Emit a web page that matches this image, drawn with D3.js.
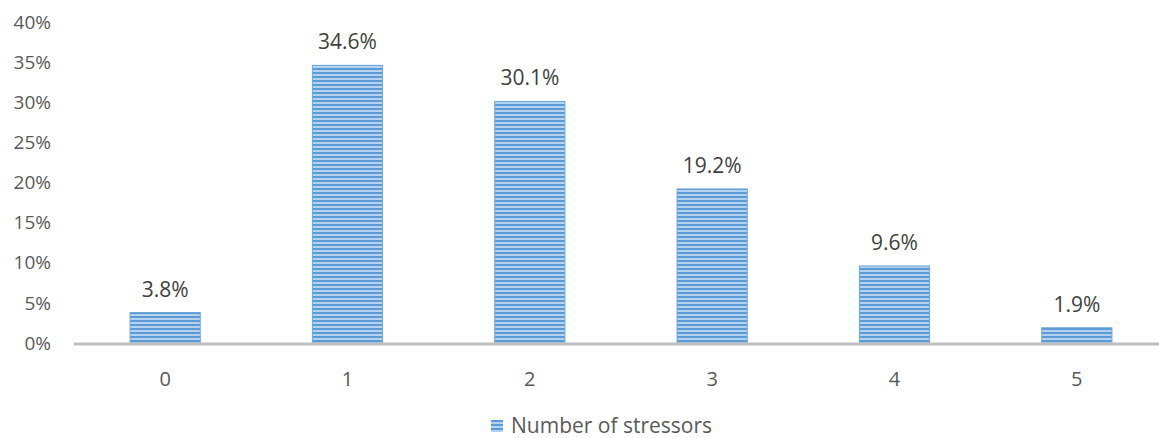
<!DOCTYPE html>
<html>
<head>
<meta charset="utf-8">
<script src="https://cdn.jsdelivr.net/npm/d3@7"></script>
<style>
  body { margin: 0; background: #fff; }
  text { font-family: "Open Sans", sans-serif; fill: #595959; }
</style>
</head>
<body>
<div id="chart"></div>
<script>
const categories = ['0', '1', '2', '3', '4', '5'];
const values = [3.8, 34.6, 30.1, 19.2, 9.6, 1.9];
const yTicks = [0, 5, 10, 15, 20, 25, 30, 35, 40];
const seriesName = 'Number of stressors';

const width = 1159;
const height = 438;

const svg = d3.select('#chart')
  .append('svg')
    .attr('width', width)
    .attr('height', height);

// striped fill like the original
const defs = svg.append('defs');
const pat = defs.append('pattern')
  .attr('id', 'stripes')
  .attr('patternUnits', 'userSpaceOnUse')
  .attr('width', 8)
  .attr('height', 4);
pat.append('rect').attr('width', 8).attr('height', 4).attr('fill', '#b4d2ee');
pat.append('rect').attr('width', 8).attr('height', 2).attr('fill', '#5b9bd5');

const x = d3.scaleBand()
  .domain(categories)
  .range([74, 1168]);

const y = d3.scaleLinear()
  .domain([0, 40])
  .range([343, 22]);

const barW = x.bandwidth() * 0.385;

// y axis labels
svg.append('g')
  .selectAll('text')
  .data(yTicks)
  .enter().append('text')
    .attr('x', 51)
    .attr('y', d => y(d))
    .attr('dy', '0.35em')
    .attr('text-anchor', 'end')
    .style('font-size', '19px')
    .text(d => d + '%');

// bars
svg.append('g')
  .selectAll('rect')
  .data(values)
  .enter().append('rect')
    .attr('x', (d, i) => x(categories[i]) + (x.bandwidth() - barW) / 2)
    .attr('y', d => y(d))
    .attr('width', barW)
    .attr('height', d => y(0) - y(d))
    .attr('fill', 'url(#stripes)')
    .attr('stroke', '#6fa6da')
    .attr('stroke-width', 1);

// value labels
svg.append('g')
  .selectAll('text')
  .data(values)
  .enter().append('text')
    .attr('x', (d, i) => x(categories[i]) + x.bandwidth() / 2)
    .attr('y', d => y(d) - 16)
    .attr('text-anchor', 'middle')
    .style('font-size', '21px')
    .style('fill', '#404040')
    .text(d => d.toFixed(1) + '%');

// baseline
svg.append('line')
  .attr('x1', 74)
  .attr('x2', width)
  .attr('y1', y(0) + 1)
  .attr('y2', y(0) + 1)
  .attr('stroke', '#bfbfbf')
  .attr('stroke-width', 3);

// x labels
svg.append('g')
  .selectAll('text')
  .data(categories)
  .enter().append('text')
    .attr('x', d => x(d) + x.bandwidth() / 2)
    .attr('y', 379)
    .attr('dy', '0.35em')
    .attr('text-anchor', 'middle')
    .style('font-size', '20px')
    .text(d => d);

// legend
const legend = svg.append('g').attr('transform', 'translate(491, 420)');
legend.append('rect')
  .attr('width', 12)
  .attr('height', 12)
  .attr('fill', 'url(#stripes)');
legend.append('text')
  .attr('x', 20)
  .attr('y', 6)
  .attr('dy', '0.35em')
  .style('font-size', '21px')
  .text(seriesName);
</script>
</body>
</html>
